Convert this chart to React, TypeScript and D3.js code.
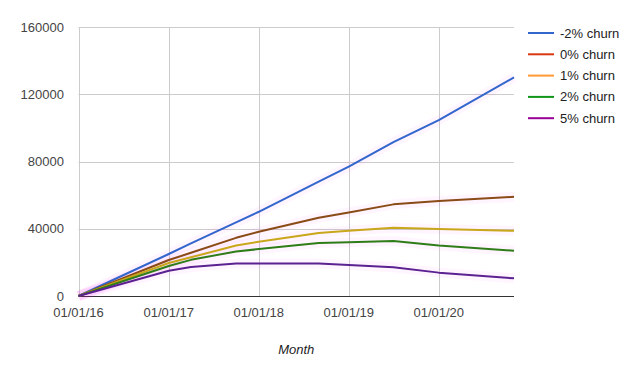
import React from "react";
import * as d3 from "d3";

const dates = ["2016-01-01", "2017-01-01", "2017-04-01", "2017-10-01", "2018-01-01", "2018-09-01", "2019-01-01", "2019-07-01", "2020-01-01", "2020-11-01"];
const churnNeg2 = [0, 25000, 31300, 43800, 50100, 68000, 76900, 91500, 104600, 130000];
const churn0 = [0, 21400, 25700, 34600, 38200, 46500, 49700, 54500, 56500, 59000];
const churn1 = [0, 19600, 23000, 30000, 32300, 37500, 38800, 40600, 39800, 38800];
const churn2 = [0, 17800, 21500, 26500, 27900, 31500, 31900, 32700, 30100, 26900];
const churn5 = [0, 15000, 17200, 19300, 19400, 19400, 18400, 17100, 13900, 10500];

const seriesNames = ["-2% churn", "0% churn", "1% churn", "2% churn", "5% churn"];
const lineColors = ["#3366cc", "#8a4b16", "#c9a71b", "#2f7d19", "#5b2191"];
const legendColors = ["#3366cc", "#dc3912", "#ff9933", "#109618", "#990099"];
const yTicks = [0, 40000, 80000, 120000, 160000];
const xTickDates = ["2016-01-01", "2017-01-01", "2018-01-01", "2019-01-01", "2020-01-01"];
const xTickLabels = ["01/01/16", "01/01/17", "01/01/18", "01/01/19", "01/01/20"];

const W = 640, H = 373;
const left = 78.5, right = 514, top = 27, bottom = 296;

export default function App() {
  const parse = d3.timeParse("%Y-%m-%d");
  const x = d3.scaleTime().domain([parse(dates[0])!, parse(dates[dates.length - 1])!]).range([left, right]);
  const y = d3.scaleLinear().domain([0, 160000]).range([bottom, top]);
  const all = [churnNeg2, churn0, churn1, churn2, churn5];
  const line = d3.line<number>().x((_, i) => x(parse(dates[i])!)).y((d) => y(d));
  const font = "Arial, 'Liberation Sans', sans-serif";
  return (
    <svg width={W} height={H} style={{ position: "absolute", left: 0, top: 0, background: "#fff" }} fontFamily={font}>
      {yTicks.map((t) => (
        <g key={"y" + t}>
          <line x1={left} x2={right} y1={Math.round(y(t)) + 0.5} y2={Math.round(y(t)) + 0.5} stroke="#cccccc" />
          <text x={64} y={y(t)} textAnchor="end" dominantBaseline="central" fontSize={13} fill="#444">{t}</text>
        </g>
      ))}
      {xTickDates.map((d, i) => {
        const xv = x(parse(d)!);
        return (
          <g key={"x" + d}>
            <line x1={Math.round(xv) + 0.5} x2={Math.round(xv) + 0.5} y1={top} y2={bottom} stroke="#cccccc" />
            <text x={xv} y={312} textAnchor="middle" dominantBaseline="central" fontSize={13} fill="#444">{xTickLabels[i]}</text>
          </g>
        );
      })}
      <line x1={left} x2={right} y1={bottom + 0.5} y2={bottom + 0.5} stroke="#333" strokeWidth={1} />
      {all.map((s, i) => (
        <path key={"g" + i} d={line(s)!} fill="none" stroke="#ff00ff" strokeOpacity={0.04} strokeWidth={10} />
      ))}
      {all.map((s, i) => (
        <path key={"l" + i} d={line(s)!} fill="none" stroke={lineColors[i]} strokeWidth={2} strokeLinejoin="round" />
      ))}
      <text x={(left + right) / 2} y={349} textAnchor="middle" dominantBaseline="central" fontSize={13} fontStyle="italic" fill="#222">Month</text>
      {seriesNames.map((n, i) => {
        const ly = 33 + i * 21.3;
        return (
          <g key={n}>
            <line x1={528} x2={554} y1={ly} y2={ly} stroke={legendColors[i]} strokeWidth={2} />
            <text x={560} y={ly} dominantBaseline="central" fontSize={13} fill="#222">{n}</text>
          </g>
        );
      })}
    </svg>
  );
}
